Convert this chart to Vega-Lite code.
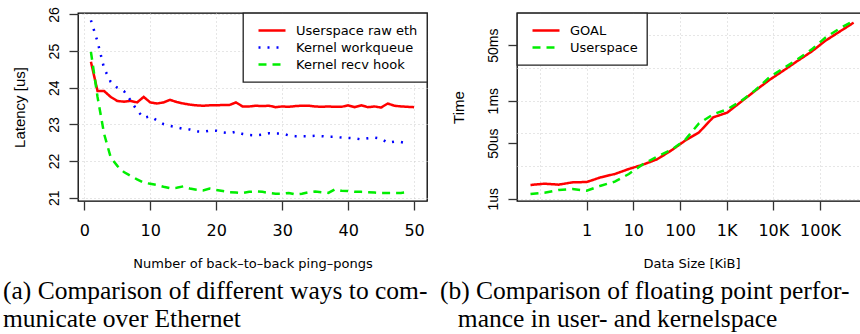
{
 "$schema": "https://vega.github.io/schema/vega-lite/v6.json",
 "autosize": {"type": "none"},
 "padding": {"left": 78, "top": 13, "right": 782, "bottom": 321},
 "background": "white",
 "bounds": "flush",
 "spacing": 90,
 "datasets": {
  "eth": [
   {"n":1,"series":"Userspace raw eth","latency":24.71},{"n":2,"series":"Userspace raw eth","latency":23.91},{"n":3,"series":"Userspace raw eth","latency":23.91},{"n":4,"series":"Userspace raw eth","latency":23.75},{"n":5,"series":"Userspace raw eth","latency":23.64},{"n":6,"series":"Userspace raw eth","latency":23.62},{"n":7,"series":"Userspace raw eth","latency":23.64},{"n":8,"series":"Userspace raw eth","latency":23.60},{"n":9,"series":"Userspace raw eth","latency":23.75},{"n":10,"series":"Userspace raw eth","latency":23.60},
   {"n":11,"series":"Userspace raw eth","latency":23.57},{"n":12,"series":"Userspace raw eth","latency":23.60},{"n":13,"series":"Userspace raw eth","latency":23.67},{"n":14,"series":"Userspace raw eth","latency":23.61},{"n":15,"series":"Userspace raw eth","latency":23.57},{"n":16,"series":"Userspace raw eth","latency":23.54},{"n":17,"series":"Userspace raw eth","latency":23.52},{"n":18,"series":"Userspace raw eth","latency":23.51},{"n":19,"series":"Userspace raw eth","latency":23.52},{"n":20,"series":"Userspace raw eth","latency":23.52},
   {"n":21,"series":"Userspace raw eth","latency":23.53},{"n":22,"series":"Userspace raw eth","latency":23.53},{"n":23,"series":"Userspace raw eth","latency":23.60},{"n":24,"series":"Userspace raw eth","latency":23.49},{"n":25,"series":"Userspace raw eth","latency":23.49},{"n":26,"series":"Userspace raw eth","latency":23.51},{"n":27,"series":"Userspace raw eth","latency":23.50},{"n":28,"series":"Userspace raw eth","latency":23.51},{"n":29,"series":"Userspace raw eth","latency":23.47},{"n":30,"series":"Userspace raw eth","latency":23.49},
   {"n":31,"series":"Userspace raw eth","latency":23.48},{"n":32,"series":"Userspace raw eth","latency":23.50},{"n":33,"series":"Userspace raw eth","latency":23.51},{"n":34,"series":"Userspace raw eth","latency":23.51},{"n":35,"series":"Userspace raw eth","latency":23.49},{"n":36,"series":"Userspace raw eth","latency":23.48},{"n":37,"series":"Userspace raw eth","latency":23.49},{"n":38,"series":"Userspace raw eth","latency":23.48},{"n":39,"series":"Userspace raw eth","latency":23.48},{"n":40,"series":"Userspace raw eth","latency":23.52},
   {"n":41,"series":"Userspace raw eth","latency":23.47},{"n":42,"series":"Userspace raw eth","latency":23.52},{"n":43,"series":"Userspace raw eth","latency":23.47},{"n":44,"series":"Userspace raw eth","latency":23.49},{"n":45,"series":"Userspace raw eth","latency":23.46},{"n":46,"series":"Userspace raw eth","latency":23.57},{"n":47,"series":"Userspace raw eth","latency":23.51},{"n":48,"series":"Userspace raw eth","latency":23.49},{"n":49,"series":"Userspace raw eth","latency":23.48},{"n":50,"series":"Userspace raw eth","latency":23.47},
   {"n":1,"series":"Kernel workqueue","latency":25.84},{"n":2,"series":"Kernel workqueue","latency":25.26},{"n":3,"series":"Kernel workqueue","latency":24.53},{"n":4,"series":"Kernel workqueue","latency":24.16},{"n":5,"series":"Kernel workqueue","latency":24.00},{"n":6,"series":"Kernel workqueue","latency":23.91},{"n":7,"series":"Kernel workqueue","latency":23.66},{"n":8,"series":"Kernel workqueue","latency":23.38},{"n":9,"series":"Kernel workqueue","latency":23.18},{"n":10,"series":"Kernel workqueue","latency":23.22},
   {"n":11,"series":"Kernel workqueue","latency":23.11},{"n":12,"series":"Kernel workqueue","latency":23.01},{"n":13,"series":"Kernel workqueue","latency":22.96},{"n":14,"series":"Kernel workqueue","latency":22.92},{"n":15,"series":"Kernel workqueue","latency":22.88},{"n":16,"series":"Kernel workqueue","latency":22.86},{"n":17,"series":"Kernel workqueue","latency":22.81},{"n":18,"series":"Kernel workqueue","latency":22.80},{"n":19,"series":"Kernel workqueue","latency":22.83},{"n":20,"series":"Kernel workqueue","latency":22.83},
   {"n":21,"series":"Kernel workqueue","latency":22.78},{"n":22,"series":"Kernel workqueue","latency":22.76},{"n":23,"series":"Kernel workqueue","latency":22.80},{"n":24,"series":"Kernel workqueue","latency":22.74},{"n":25,"series":"Kernel workqueue","latency":22.71},{"n":26,"series":"Kernel workqueue","latency":22.70},{"n":27,"series":"Kernel workqueue","latency":22.72},{"n":28,"series":"Kernel workqueue","latency":22.76},{"n":29,"series":"Kernel workqueue","latency":22.75},{"n":30,"series":"Kernel workqueue","latency":22.75},
   {"n":31,"series":"Kernel workqueue","latency":22.70},{"n":32,"series":"Kernel workqueue","latency":22.68},{"n":33,"series":"Kernel workqueue","latency":22.68},{"n":34,"series":"Kernel workqueue","latency":22.68},{"n":35,"series":"Kernel workqueue","latency":22.69},{"n":36,"series":"Kernel workqueue","latency":22.68},{"n":37,"series":"Kernel workqueue","latency":22.66},{"n":38,"series":"Kernel workqueue","latency":22.66},{"n":39,"series":"Kernel workqueue","latency":22.64},{"n":40,"series":"Kernel workqueue","latency":22.63},
   {"n":41,"series":"Kernel workqueue","latency":22.62},{"n":42,"series":"Kernel workqueue","latency":22.59},{"n":43,"series":"Kernel workqueue","latency":22.62},{"n":44,"series":"Kernel workqueue","latency":22.64},{"n":45,"series":"Kernel workqueue","latency":22.61},{"n":46,"series":"Kernel workqueue","latency":22.50},{"n":47,"series":"Kernel workqueue","latency":22.53},{"n":48,"series":"Kernel workqueue","latency":22.52},{"n":49,"series":"Kernel workqueue","latency":22.48},
   {"n":1,"series":"Kernel recv hook","latency":24.98},{"n":2,"series":"Kernel recv hook","latency":23.75},{"n":3,"series":"Kernel recv hook","latency":22.74},{"n":4,"series":"Kernel recv hook","latency":22.10},{"n":5,"series":"Kernel recv hook","latency":21.87},{"n":6,"series":"Kernel recv hook","latency":21.70},{"n":7,"series":"Kernel recv hook","latency":21.60},{"n":8,"series":"Kernel recv hook","latency":21.50},{"n":9,"series":"Kernel recv hook","latency":21.41},{"n":10,"series":"Kernel recv hook","latency":21.38},
   {"n":11,"series":"Kernel recv hook","latency":21.35},{"n":12,"series":"Kernel recv hook","latency":21.30},{"n":13,"series":"Kernel recv hook","latency":21.26},{"n":14,"series":"Kernel recv hook","latency":21.27},{"n":15,"series":"Kernel recv hook","latency":21.31},{"n":16,"series":"Kernel recv hook","latency":21.25},{"n":17,"series":"Kernel recv hook","latency":21.22},{"n":18,"series":"Kernel recv hook","latency":21.20},{"n":19,"series":"Kernel recv hook","latency":21.25},{"n":20,"series":"Kernel recv hook","latency":21.21},
   {"n":21,"series":"Kernel recv hook","latency":21.18},{"n":22,"series":"Kernel recv hook","latency":21.15},{"n":23,"series":"Kernel recv hook","latency":21.14},{"n":24,"series":"Kernel recv hook","latency":21.13},{"n":25,"series":"Kernel recv hook","latency":21.16},{"n":26,"series":"Kernel recv hook","latency":21.17},{"n":27,"series":"Kernel recv hook","latency":21.16},{"n":28,"series":"Kernel recv hook","latency":21.13},{"n":29,"series":"Kernel recv hook","latency":21.11},{"n":30,"series":"Kernel recv hook","latency":21.11},
   {"n":31,"series":"Kernel recv hook","latency":21.13},{"n":32,"series":"Kernel recv hook","latency":21.09},{"n":33,"series":"Kernel recv hook","latency":21.11},{"n":34,"series":"Kernel recv hook","latency":21.15},{"n":35,"series":"Kernel recv hook","latency":21.17},{"n":36,"series":"Kernel recv hook","latency":21.15},{"n":37,"series":"Kernel recv hook","latency":21.13},{"n":38,"series":"Kernel recv hook","latency":21.23},{"n":39,"series":"Kernel recv hook","latency":21.19},{"n":40,"series":"Kernel recv hook","latency":21.18},
   {"n":41,"series":"Kernel recv hook","latency":21.16},{"n":42,"series":"Kernel recv hook","latency":21.16},{"n":43,"series":"Kernel recv hook","latency":21.15},{"n":44,"series":"Kernel recv hook","latency":21.14},{"n":45,"series":"Kernel recv hook","latency":21.13},{"n":46,"series":"Kernel recv hook","latency":21.13},{"n":47,"series":"Kernel recv hook","latency":21.13},{"n":48,"series":"Kernel recv hook","latency":21.13},{"n":49,"series":"Kernel recv hook","latency":21.15}
  ],
  "fp": [
   {"size":0.0625,"series":"GOAL","time":2.63},{"size":0.125,"series":"GOAL","time":2.88},{"size":0.25,"series":"GOAL","time":2.69},{"size":0.5,"series":"GOAL","time":3.17},{"size":1,"series":"GOAL","time":3.24},{"size":2,"series":"GOAL","time":4.51},{"size":4,"series":"GOAL","time":5.70},{"size":8,"series":"GOAL","time":8.11},
   {"size":16,"series":"GOAL","time":11.0},{"size":32,"series":"GOAL","time":16.0},{"size":64,"series":"GOAL","time":29.5},{"size":128,"series":"GOAL","time":59.7},{"size":256,"series":"GOAL","time":107.6},{"size":512,"series":"GOAL","time":309},{"size":1024,"series":"GOAL","time":430},{"size":2048,"series":"GOAL","time":933},
   {"size":4096,"series":"GOAL","time":2027},{"size":8192,"series":"GOAL","time":4300},{"size":16384,"series":"GOAL","time":8300},{"size":32768,"series":"GOAL","time":16400},{"size":65536,"series":"GOAL","time":31650},{"size":131072,"series":"GOAL","time":68700},{"size":262144,"series":"GOAL","time":129700},{"size":524288,"series":"GOAL","time":244400},
   {"size":0.0625,"series":"Userspace","time":1.39},{"size":0.125,"series":"Userspace","time":1.53},{"size":0.25,"series":"Userspace","time":1.85},{"size":0.5,"series":"Userspace","time":1.98},{"size":1,"series":"Userspace","time":1.76},{"size":2,"series":"Userspace","time":2.50},{"size":4,"series":"Userspace","time":3.32},{"size":8,"series":"Userspace","time":5.70},
   {"size":16,"series":"Userspace","time":11.3},{"size":32,"series":"Userspace","time":19.4},{"size":64,"series":"Userspace","time":30.9},{"size":128,"series":"Userspace","time":62.6},{"size":256,"series":"Userspace","time":203},{"size":512,"series":"Userspace","time":382},{"size":1024,"series":"Userspace","time":544},{"size":2048,"series":"Userspace","time":978},
   {"size":4096,"series":"Userspace","time":2100},{"size":8192,"series":"Userspace","time":5190},{"size":16384,"series":"Userspace","time":9780},{"size":32768,"series":"Userspace","time":18450},{"size":65536,"series":"Userspace","time":36500},{"size":131072,"series":"Userspace","time":85900},{"size":262144,"series":"Userspace","time":162000},{"size":524288,"series":"Userspace","time":274000}
  ]
 },
 "hconcat": [
  {
   "width": 349, "height": 188,
   "title": {"text": ["(a) Comparison of different ways to com-", "municate over Ethernet"], "dx": -75},
   "data": {"name": "eth"},
   "mark": {"type": "line", "strokeWidth": 2.5},
   "encoding": {
    "x": {"field": "n", "type": "quantitative", "scale": {"domain": [-0.96, 51.96], "nice": false, "zero": false}, "axis": {"values": [0,10,20,30,40,50], "title": "Number of back\u2013to\u2013back ping\u2013pongs"}},
    "y": {"field": "latency", "type": "quantitative", "scale": {"domain": [20.91, 26.04], "nice": false, "zero": false}, "axis": {"values": [21,22,23,24,25,26], "title": "Latency [us]"}},
    "color": {"field": "series", "type": "nominal", "scale": {"domain": ["Userspace raw eth", "Kernel workqueue", "Kernel recv hook"], "range": ["#ff0000", "#0000ff", "#00ee00"]}, "legend": {"orient": "top-right", "title": null}},
    "strokeDash": {"field": "series", "type": "nominal", "scale": {"domain": ["Userspace raw eth", "Kernel workqueue", "Kernel recv hook"], "range": [[1,0],[2,7],[8,6]]}, "legend": {"orient": "top-right", "title": null}}
   }
  },
  {
   "width": 349, "height": 188,
   "title": {"text": ["(b) Comparison of floating point perfor-", "\u200b\u2002\u2009mance in user- and kernelspace"], "dx": -77},
   "data": {"name": "fp"},
   "layer": [
    {
     "mark": {"type": "line", "strokeWidth": 2.5},
     "encoding": {
      "x": {"field": "size", "type": "quantitative", "scale": {"type": "log", "domain": [0.0321, 966000], "nice": false}, "axis": {"orient": "bottom", "values": [0.1,1,10,100,1000,10000,100000], "labels": false, "ticks": false, "title": null, "grid": true}},
      "y": {"field": "time", "type": "quantitative", "scale": {"type": "log", "domain": [0.85, 483000], "nice": false}, "axis": {"orient": "left", "values": [1,10,100,1000,10000,100000], "labels": false, "ticks": false, "title": null, "grid": true}},
      "color": {"field": "series", "type": "nominal", "scale": {"domain": ["GOAL", "Userspace"], "range": ["#ff0000", "#00ee00"]}, "legend": {"orient": "top-left", "title": null}},
      "strokeDash": {"field": "series", "type": "nominal", "scale": {"domain": ["GOAL", "Userspace"], "range": [[1,0],[8,6]]}, "legend": {"orient": "top-left", "title": null}}
     }
    },
    {
     "mark": {"type": "point", "opacity": 0},
     "encoding": {
      "x": {"field": "size", "type": "quantitative", "scale": {"type": "log", "domain": [0.0321, 966000], "nice": false}, "axis": {"orient": "bottom", "grid": false, "values": [1,10,100,1000,10000,100000], "labelExpr": "datum.value >= 1000 ? format(datum.value/1000, 'd') + 'K' : format(datum.value, 'd')", "title": "Data Size [KiB]"}},
      "y": {"field": "time", "type": "quantitative", "scale": {"type": "log", "domain": [0.85, 483000], "nice": false}, "axis": {"orient": "left", "grid": false, "values": [1,50,1000,50000], "labelExpr": "datum.value >= 1000 ? format(datum.value/1000, 'd') + 'ms' : format(datum.value, 'd') + 'us'", "title": "Time"}}
     }
    }
   ],
   "resolve": {"axis": {"x": "independent", "y": "independent"}}
  }
 ],
 "resolve": {"scale": {"color": "independent", "strokeDash": "independent"}, "legend": {"color": "independent", "strokeDash": "independent"}},
 "config": {
  "view": {"stroke": "#000", "strokeWidth": 1.3},
  "axis": {"domain": false, "grid": true, "gridColor": "#cccccc", "gridDash": [1,3], "gridWidth": 1, "tickColor": "#333", "tickSize": 9, "tickWidth": 1.3, "labelColor": "#000", "titleColor": "#000", "titleFontWeight": "normal", "labelFlush": false, "labelOverlap": false},
  "axisX": {"labelFont": "DejaVu Sans", "labelFontSize": 16, "labelPadding": 12, "titleFont": "DejaVu Sans", "titleFontSize": 13, "titlePadding": 19},
  "axisY": {"labelFont": "Liberation Sans", "labelFontSize": 14, "labelAngle": -90, "labelAlign": "center", "labelBaseline": "alphabetic", "labelPadding": 11, "titleFont": "Liberation Sans", "titleFontSize": 15, "titlePadding": 20},
  "legend": {"fillColor": "white", "strokeColor": "#222", "strokeWidth": 1.3, "padding": 9, "offset": 0, "symbolType": "stroke", "symbolSize": 729, "symbolStrokeWidth": 2.5, "labelFont": "DejaVu Sans", "labelFontSize": 13, "labelColor": "#000", "labelOffset": 9, "clipHeight": 17, "rowPadding": 0, "symbolOffset": 5},
  "title": {"font": "Liberation Serif", "fontSize": 25.5, "fontWeight": "normal", "anchor": "start", "frame": "group", "orient": "bottom", "baseline": "top", "lineHeight": 28, "offset": 9, "color": "#000"}
 }
}
